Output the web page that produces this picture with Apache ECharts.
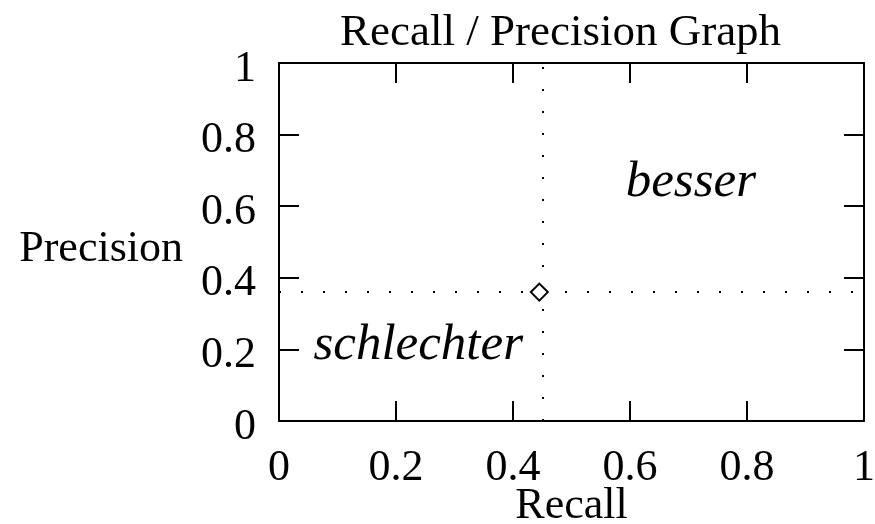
<!DOCTYPE html>
<html>
<head>
<meta charset="utf-8">
<script src="https://cdn.jsdelivr.net/npm/echarts@6/dist/echarts.min.js"></script>
<style>html,body{margin:0;padding:0;background:#fff;}#c{width:875px;height:524px;}</style>
</head>
<body>
<div id="c"></div>
<script>
const recall = [0.445];
const precision = [0.36];
const xTickValues = [0, 0.2, 0.4, 0.6, 0.8, 1];
const yTickValues = [0, 0.2, 0.4, 0.6, 0.8, 1];
const annotationTexts = ['besser', 'schlechter'];
const annotationX = [0.704, 0.238];
const annotationY = [0.665, 0.21];
const titleText = 'Recall / Precision Graph';
const xName = 'Recall';
const yName = 'Precision';

const FONT = 'Liberation Serif';
const chart = echarts.init(document.getElementById('c'));
const fmt = ticks => v => { const r = Math.round(v * 10) / 10; return ticks.includes(r) ? String(r) : ''; };
const axisBase = () => ({
  min: 0, max: 1, interval: 0.2,
  splitLine: { show: false },
  axisLine: { show: true, onZero: false, lineStyle: { color: '#000', width: 2 } },
  axisTick: { show: true, inside: true, length: 20, lineStyle: { color: '#000', width: 2 } }
});
const dotted = { color: '#000', width: 2, type: [2, 20], opacity: 1 };
chart.setOption({
  animation: false,
  backgroundColor: '#fff',
  title: {
    text: titleText, left: 335, top: 6,
    textStyle: { fontFamily: FONT, fontSize: 45, fontWeight: 'normal', color: '#000' }
  },
  grid: { left: 279, top: 63, width: 585, height: 358, containLabel: false, outerBoundsMode: 'none' },
  xAxis: [
    Object.assign(axisBase(), {
      type: 'value', position: 'bottom',
      name: xName, nameLocation: 'middle', nameGap: 63, nameMoveOverlap: false,
      nameTextStyle: { fontFamily: FONT, fontSize: 44, color: '#000' },
      axisLabel: { fontFamily: FONT, fontSize: 44, color: '#000', margin: 25, formatter: fmt(xTickValues) }
    }),
    Object.assign(axisBase(), { type: 'value', position: 'top', axisLabel: { show: false } })
  ],
  yAxis: [
    Object.assign(axisBase(), {
      type: 'value', position: 'left',
      name: yName, nameLocation: 'middle', nameRotate: 0, nameGap: 96, nameMoveOverlap: false,
      nameTextStyle: { fontFamily: FONT, fontSize: 44, color: '#000', verticalAlign: 'top', lineHeight: 14 },
      axisLabel: { fontFamily: FONT, fontSize: 44, color: '#000', margin: 23, verticalAlign: 'top', lineHeight: 12, formatter: fmt(yTickValues) }
    }),
    Object.assign(axisBase(), { type: 'value', position: 'right', axisLabel: { show: false } })
  ],
  series: [
    {
      type: 'scatter',
      data: recall.map((r, i) => [r, precision[i]]),
      symbol: 'diamond', symbolSize: 17,
      itemStyle: { color: '#fff', borderColor: '#000', borderWidth: 2, opacity: 1 },
      z: 5,
      markLine: {
        silent: true, symbol: 'none', label: { show: false },
        lineStyle: dotted,
        emphasis: { disabled: true },
        data: [{ xAxis: recall[0] }, { yAxis: precision[0] }]
      }
    },
    {
      type: 'scatter',
      symbolSize: 0,
      itemStyle: { opacity: 1 },
      data: annotationTexts.map((t, i) => ({ value: [annotationX[i], annotationY[i]], name: t })),
      label: {
        show: true, position: 'inside', formatter: p => p.name,
        fontFamily: FONT, fontStyle: 'italic', fontSize: 51, color: '#000', opacity: 1
      }
    }
  ]
});
</script>
</body>
</html>
